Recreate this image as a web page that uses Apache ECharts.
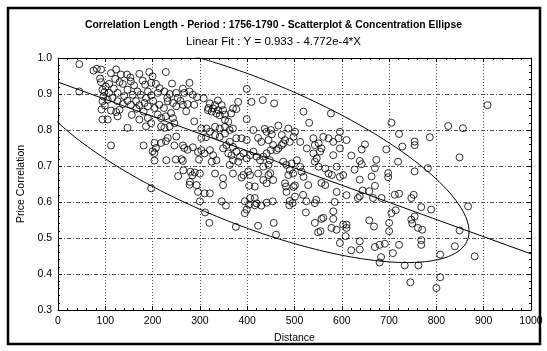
<!DOCTYPE html>
<html><head><meta charset="utf-8">
<script src="https://cdn.jsdelivr.net/npm/echarts@6/dist/echarts.min.js"></script>
<style>html,body{margin:0;padding:0;background:#fff}#c{width:547px;height:351px}</style>
</head><body><div id="c"></div>
<script>
// ---- data ----
const distance = [
45,75,82,91,112,123,133,146,153,172,193,200,228,89,91,108,130,137,154,179,184,197,207,278,264,
94,98,108,126,147,158,168,175,190,197,186,211,225,236,250,253,267,278,285,294,45,
94,105,115,126,137,147,154,165,172,183,190,204,214,224,232,243,250,264,274,288,
112,123,130,126,105,94,172,190,197,186,211,218,228,239,243,246,236,218,225,147,288,
112,181,204,207,200,218,228,232,246,250,264,267,274,285,296,204,313,303,96,99,92,
204,229,249,261,264,298,254,265,280,289,284,279,293,278,296,197,300,
308,321,328,317,325,335,332,339,342,349,353,346,353,360,370,377,381,409,433,457,399,519,531,577,
303,314,321,332,342,353,363,370,332,342,353,
377,388,399,413,423,437,430,445,452,450,466,487,473,480,490,498,455,466,476,450,
512,526,540,551,543,561,572,582,593,596,596,610,557,554,540,547,543,551,565,582,572,579,589,603,596,
303,310,321,328,335,325,349,356,363,370,360,367,377,385,392,370,381,399,406,413,420,427,434,441,448,445,434,
462,473,476,483,490,494,505,512,515,497,487,519,
332,349,349,370,392,406,423,434,441,445,480,483,498,529,565,589,610,310,321,
399,441,501,620,638,642,402,388,455,404,416,449,363,
300,346,395,406,416,454,490,501,518,525,546,585,634,482,501,557,627,
311,320,355,404,399,395,430,441,376,423,456,461,489,496,524,543,543,557,561,550,555,582,582,578,589,603,610,610,608,596,620,416,420,
908,705,721,825,856,786,754,754,728,694,642,649,849,719,673,670,782,
638,663,670,698,698,754,644,658,666,684,638,712,721,747,752,705,714,700,700,768,789,867,658,668,747,754,749,761,770,849,
768,768,721,839,808,638,638,670,680,691,708,683,680,733,762,881,808,745,800,
101,118,140,161,215,241,166,201,231,259,121,181,156,271,318,338,366
];
const correlation = [
0.983,0.965,0.97,0.968,0.958,0.968,0.954,0.954,0.946,0.956,0.961,0.949,0.961,0.943,0.933,0.928,0.933,0.928,0.935,0.937,0.926,0.931,0.928,0.931,0.915,
0.912,0.905,0.903,0.903,0.912,0.898,0.907,0.898,0.907,0.896,0.889,0.903,0.907,0.9,0.903,0.889,0.903,0.907,0.898,0.891,0.907,
0.88,0.884,0.889,0.88,0.872,0.881,0.87,0.88,0.869,0.875,0.866,0.861,0.87,0.861,0.88,0.875,0.866,0.87,0.872,0.87,
0.854,0.85,0.856,0.838,0.829,0.829,0.829,0.833,0.819,0.81,0.843,0.833,0.838,0.847,0.833,0.819,0.81,0.81,0.806,0.806,0.824,
0.757,0.757,0.764,0.75,0.741,0.764,0.769,0.778,0.757,0.782,0.757,0.75,0.745,0.752,0.739,0.736,0.78,0.778,0.893,0.868,0.857,
0.715,0.716,0.718,0.719,0.714,0.718,0.672,0.688,0.684,0.682,0.674,0.656,0.647,0.648,0.628,0.638,0.679,
0.888,0.874,0.86,0.855,0.851,0.846,0.869,0.855,0.841,0.855,0.843,0.869,0.828,0.823,0.86,0.858,0.878,0.878,0.883,0.874,0.83,0.851,0.82,0.846,
0.804,0.804,0.795,0.809,0.804,0.809,0.8,0.804,0.786,0.781,0.79,
0.777,0.777,0.772,0.8,0.778,0.803,0.767,0.772,0.788,0.8,0.812,0.804,0.786,0.772,0.767,0.781,0.758,0.749,0.763,0.744,
0.767,0.749,0.777,0.763,0.758,0.781,0.777,0.767,0.777,0.795,0.749,0.772,0.749,0.74,0.735,0.721,0.712,0.698,0.693,0.73,0.679,0.675,0.698,0.675,0.67,
0.744,0.735,0.744,0.73,0.716,0.712,0.749,0.758,0.767,0.753,0.735,0.73,0.74,0.726,0.735,0.716,0.712,0.721,0.73,0.74,0.726,0.716,0.726,0.735,0.716,0.703,0.698,
0.744,0.758,0.712,0.703,0.689,0.707,0.716,0.698,0.684,0.679,0.675,0.67,
0.679,0.666,0.647,0.679,0.675,0.675,0.679,0.661,0.652,0.675,0.652,0.628,0.642,0.647,0.647,0.628,0.619,0.624,0.624,
0.914,0.795,0.795,0.729,0.714,0.705,0.685,0.668,0.661,0.645,0.643,0.68,0.703,
0.602,0.602,0.602,0.611,0.611,0.602,0.603,0.615,0.62,0.602,0.606,0.6,0.611,0.643,0.646,0.653,0.69,
0.571,0.542,0.59,0.593,0.579,0.569,0.59,0.598,0.531,0.534,0.542,0.509,0.591,0.597,0.571,0.597,0.542,0.553,0.556,0.516,0.519,0.574,0.553,0.528,0.523,0.537,0.537,0.528,0.505,0.486,0.466,0.591,0.596,
0.869,0.82,0.789,0.811,0.805,0.78,0.768,0.758,0.754,0.746,0.746,0.76,0.724,0.712,0.717,0.694,0.694,
0.662,0.671,0.645,0.68,0.669,0.685,0.632,0.63,0.611,0.611,0.616,0.62,0.623,0.611,0.62,0.569,0.577,0.542,0.519,0.586,0.579,0.588,0.549,0.532,0.551,0.56,0.54,0.528,0.523,0.521,
0.494,0.481,0.481,0.477,0.454,0.491,0.468,0.475,0.481,0.484,0.458,0.447,0.432,0.424,0.424,0.449,0.391,0.377,0.361,
0.921,0.915,0.894,0.924,0.916,0.929,0.859,0.881,0.889,0.881,0.942,0.851,0.842,0.852,0.861,0.882,0.846
];
// linear fit printed in the subtitle: Y = a + b*X
const fitCoef = [0.933, -4.772e-4];
const fitRange = [0, 1000];
// concentration ellipse (center distance, half-width, vertical half-chord about the fit line)
const ellipseParams = [400, 469, 0.215];
const xTicks = [0, 1000, 100];
const yTicks = [0.3, 1.0, 0.1];

const points = distance.map((d, i) => [d, correlation[i]]);
const fit = x => fitCoef[0] + fitCoef[1] * x;
const fitLine = fitRange.map(x => [x, fit(x)]);
const ellipse = [];
for (let k = 0; k <= 360; k += 1) {
  const t = k * Math.PI / 180;
  const x = ellipseParams[0] + ellipseParams[1] * Math.cos(t);
  ellipse.push([x, fit(x) + ellipseParams[2] * Math.sin(t)]);
}

const FONT = 'Liberation Sans, Arial, sans-serif';
const grid = '#555';
const chart = echarts.init(document.getElementById('c'), null, {renderer: 'canvas'});
const axisCommon = {
  type: 'value',
  axisLine: {show: true, onZero: false, lineStyle: {color: '#000', width: 1}},
  axisTick: {show: true, inside: true, length: 4, lineStyle: {color: '#000'}},
  minorTick: {show: true, splitNumber: 5, length: 2, lineStyle: {color: '#000'}},
};
chart.setOption({
  animation: false,
  backgroundColor: '#fff',
  title: [
    {text: 'Correlation Length - Period : 1756-1790 - Scatterplot & Concentration Ellipse',
     left: 'center', top: 15, textStyle: {fontFamily: FONT, fontSize: 10.4, fontWeight: 'bold', color: '#000'}},
    {text: 'Linear Fit : Y = 0.933 - 4.772e-4*X',
     left: 'center', top: 31, textStyle: {fontFamily: FONT, fontSize: 11.5, fontWeight: 'normal', color: '#000'}}
  ],
  grid: {left: 58, right: 16, top: 58, bottom: 41, containLabel: false},
  xAxis: [
    Object.assign({}, axisCommon, {
      min: xTicks[0], max: xTicks[1], interval: xTicks[2], position: 'bottom',
      name: 'Distance', nameLocation: 'middle', nameGap: 23,
      nameTextStyle: {fontFamily: FONT, fontSize: 10.5, color: '#000'},
      axisLabel: {fontFamily: FONT, fontSize: 10.5, color: '#000', margin: 6, formatter: v => String(v)},
      splitLine: {show: true, lineStyle: {color: grid, type: [1, 2], width: 1}}
    }),
    Object.assign({}, axisCommon, {
      min: xTicks[0], max: xTicks[1], interval: xTicks[2], position: 'top',
      axisLabel: {show: false}, splitLine: {show: false}
    })
  ],
  yAxis: [
    Object.assign({}, axisCommon, {
      min: yTicks[0], max: yTicks[1], interval: yTicks[2], position: 'left',
      name: 'Price Correlation', nameLocation: 'middle', nameGap: 31,
      nameTextStyle: {fontFamily: FONT, fontSize: 10.5, color: '#000'},
      axisLabel: {fontFamily: FONT, fontSize: 10.5, color: '#000', margin: 6, formatter: v => v.toFixed(1)},
      splitLine: {show: true, lineStyle: {color: grid, type: [4, 2, 1, 2], width: 1}}
    }),
    Object.assign({}, axisCommon, {
      min: yTicks[0], max: yTicks[1], interval: yTicks[2], position: 'right',
      axisLabel: {show: false}, splitLine: {show: false}
    })
  ],
  graphic: [{type: 'rect', shape: {x: 8, y: 8, width: 532, height: 336}, style: {fill: 'none', stroke: '#000', lineWidth: 2.5}, silent: true, z: 100}],
  series: [
    {type: 'scatter', data: points, symbol: 'circle', symbolSize: 7,
     itemStyle: {color: 'rgba(0,0,0,0)', borderColor: '#000', borderWidth: 1}, z: 3},
    {type: 'line', data: fitLine, showSymbol: false, symbol: 'none', lineStyle: {color: '#000', width: 1}, z: 4},
    {type: 'line', data: ellipse, showSymbol: false, symbol: 'none', clip: true, lineStyle: {color: '#000', width: 1}, z: 4}
  ]
});
</script></body></html>
